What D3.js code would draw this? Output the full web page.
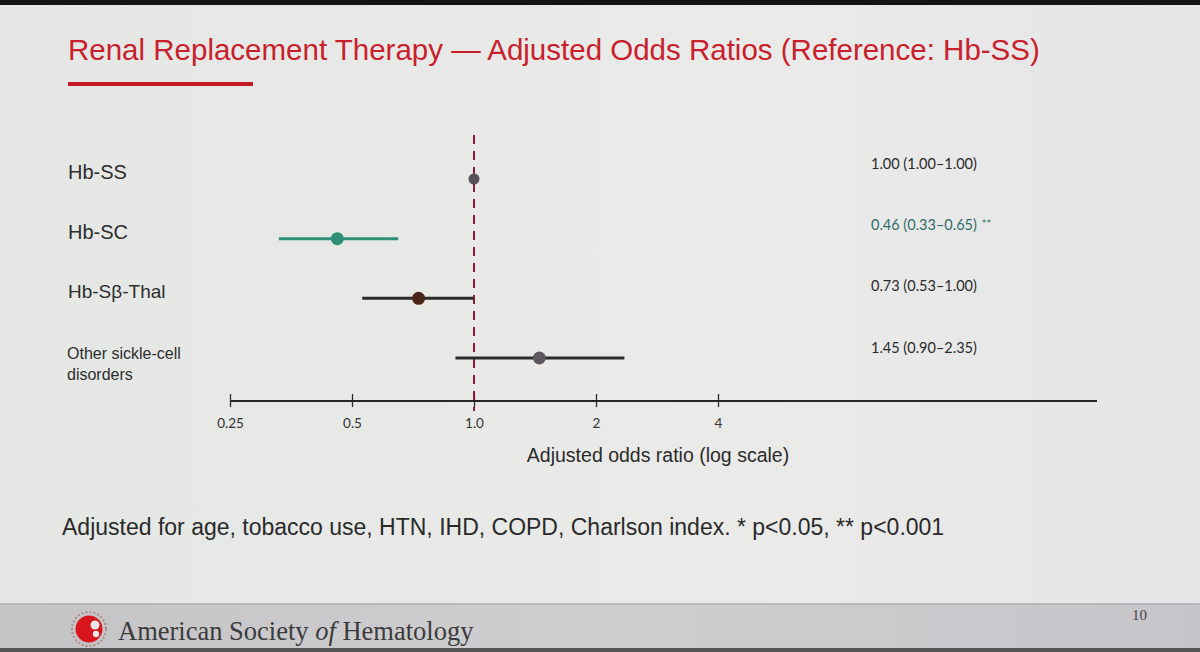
<!DOCTYPE html>
<html>
<head>
<meta charset="utf-8">
<script src="https://cdn.jsdelivr.net/npm/d3@7"></script>
<style>
  html, body { margin: 0; padding: 0; background: #e7e8e6; }
  svg { display: block; }
</style>
</head>
<body>
<script>
// Forest plot data (odds ratio with 95% CI, reference Hb-SS)
const groups = ["Hb-SS", "Hb-SC", "Hb-S\u03b2-Thal", "Other sickle-cell disorders"];
const oddsRatios = [1.00, 0.46, 0.73, 1.45];
const ciLow = [1.00, 0.33, 0.53, 0.90];
const ciHigh = [1.00, 0.65, 1.00, 2.35];
const significance = ["", "**", "", ""];
const tickValues = [0.25, 0.5, 1, 2, 4];
const tickLabels = ["0.25", "0.5", "1.0", "2", "4"];
const rowColors = ["#57535a", "#2f8f74", "#4a2519", "#5d585d"];

const width = 1200;
const height = 652;

const svg = d3.select("body").append("svg")
    .attr("width", width)
    .attr("height", height);

// slide background + dark top edge
const defs = svg.append("defs");
const bg = defs.append("linearGradient").attr("id", "bg").attr("x1", 0).attr("x2", 1).attr("y1", 0).attr("y2", 0);
bg.append("stop").attr("offset", 0).attr("stop-color", "#e5e7e5");
bg.append("stop").attr("offset", 0.6).attr("stop-color", "#eaebe9");
bg.append("stop").attr("offset", 1).attr("stop-color", "#e7e5e7");
svg.append("rect").attr("width", width).attr("height", height).attr("fill", "url(#bg)");
svg.append("rect").attr("width", width).attr("height", 5).attr("fill", "#141414");

// title
svg.append("text")
    .attr("x", 68)
    .attr("y", 60)
    .attr("font-family", "Liberation Sans, Arial, sans-serif")
    .attr("font-size", 29.5)
    .attr("fill", "#c8202c")
    .text("Renal Replacement Therapy \u2014 Adjusted Odds Ratios (Reference: Hb-SS)");

svg.append("rect")
    .attr("x", 68).attr("y", 82)
    .attr("width", 185).attr("height", 4)
    .attr("fill", "#c41a26");

// scales
const x = d3.scaleLog()
    .domain([0.25, 4])
    .range([230, 718]);

const y = d3.scalePoint()
    .domain(groups)
    .range([179, 358]);

const axisY = 401;

// x axis
const xAxis = svg.append("g")
    .attr("transform", `translate(0,${axisY})`)
    .call(d3.axisBottom(x)
        .tickValues(tickValues)
        .tickFormat((d, i) => tickLabels[i])
        .tickSize(0)
        .tickPadding(17));

xAxis.select(".domain").remove();
xAxis.selectAll(".tick text")
    .attr("font-family", "Lato, sans-serif")
    .attr("font-size", 13.5)
    .attr("fill", "#333");
xAxis.selectAll(".tick").append("line")
    .attr("y1", -7)
    .attr("y2", 6)
    .attr("stroke", "#2a2a2a")
    .attr("stroke-width", 1.3);

xAxis.append("line")
    .attr("x1", x(0.25))
    .attr("x2", 1097)
    .attr("stroke", "#262626")
    .attr("stroke-width", 2.2);

svg.append("text")
    .attr("x", 658)
    .attr("y", 462)
    .attr("text-anchor", "middle")
    .attr("font-family", "Liberation Sans, Arial, sans-serif")
    .attr("font-size", 19.5)
    .attr("fill", "#2a2a2a")
    .text("Adjusted odds ratio (log scale)");

// reference line at OR = 1
svg.append("line")
    .attr("x1", x(1)).attr("x2", x(1))
    .attr("y1", 135).attr("y2", axisY + 10)
    .attr("stroke", "#8e1a35")
    .attr("stroke-width", 2)
    .attr("stroke-dasharray", "9,7");

// row labels
const labelG = svg.append("g")
    .attr("font-family", "Liberation Sans, Arial, sans-serif")
    .attr("fill", "#2d2d2d");

groups.forEach((g, i) => {
    if (i === 3) {
        const t = labelG.append("text")
            .attr("x", 67)
            .attr("y", y(g) + 1)
            .attr("font-size", 16);
        t.append("tspan").attr("x", 67).text("Other sickle-cell");
        t.append("tspan").attr("x", 67).attr("dy", 21).text("disorders");
    } else {
        labelG.append("text")
            .attr("x", 68)
            .attr("y", y(g) + 0)
            .attr("font-size", i === 2 ? 19 : 20)
            .text(g);
    }
});

// CI whiskers and points
const rows = svg.append("g");
groups.forEach((g, i) => {
    if (ciHigh[i] > ciLow[i]) {
        rows.append("line")
            .attr("x1", x(ciLow[i]))
            .attr("x2", x(ciHigh[i]))
            .attr("y1", y(g)).attr("y2", y(g))
            .attr("stroke", i === 1 ? rowColors[1] : "#2b2b2b")
            .attr("stroke-width", 3);
    }
    rows.append("circle")
        .attr("cx", x(oddsRatios[i]))
        .attr("cy", y(g))
        .attr("r", i === 0 ? 5.5 : 6.5)
        .attr("fill", rowColors[i]);
});

// estimates column
const est = svg.append("g")
    .attr("font-family", "Lato, sans-serif")
    .attr("font-size", 14.5);
groups.forEach((g, i) => {
    const t = est.append("text")
        .attr("x", 871)
        .attr("y", y(g) - 10 + i * 1.5)
        .attr("fill", i === 1 ? "#2f6e68" : "#2a2a2a")
        .text(`${oddsRatios[i].toFixed(2)} (${ciLow[i].toFixed(2)}\u2013${ciHigh[i].toFixed(2)})`);
    if (significance[i]) {
        t.append("tspan").attr("dx", 5).attr("font-size", 11).attr("dy", -2).text(significance[i]);
    }
});

// footnote
svg.append("text")
    .attr("x", 62)
    .attr("y", 535)
    .attr("font-family", "Liberation Sans, Arial, sans-serif")
    .attr("font-size", 23)
    .attr("fill", "#2a2a2a")
    .text("Adjusted for age, tobacco use, HTN, IHD, COPD, Charlson index. * p<0.05, ** p<0.001");

// footer band
const fg = defs.append("linearGradient").attr("id", "fg").attr("x1", 0).attr("x2", 1).attr("y1", 0).attr("y2", 0);
fg.append("stop").attr("offset", 0).attr("stop-color", "#c4c4c6");
fg.append("stop").attr("offset", 0.5).attr("stop-color", "#cfcfd1");
fg.append("stop").attr("offset", 1).attr("stop-color", "#c6c4c8");
svg.append("rect").attr("x", 0).attr("y", 605).attr("width", width).attr("height", 47).attr("fill", "url(#fg)");
svg.append("line").attr("x1", 0).attr("x2", width).attr("y1", 604).attr("y2", 604)
    .attr("stroke", "#a9a9ab").attr("stroke-width", 1.5);
svg.append("rect").attr("x", 0).attr("y", 648).attr("width", width).attr("height", 4).attr("fill", "#555");

// logo
const logo = svg.append("g").attr("transform", "translate(89,629)");
logo.append("circle").attr("r", 17).attr("fill", "none").attr("stroke", "#b08a8a").attr("stroke-width", 2).attr("stroke-dasharray", "2,2");
logo.append("circle").attr("r", 13.5).attr("fill", "#d8141c");
logo.append("circle").attr("cx", 6).attr("cy", -4).attr("r", 4.5).attr("fill", "#f2e6e6");
logo.append("circle").attr("cx", 7).attr("cy", 5).attr("r", 3.2).attr("fill", "#f2e6e6");

const org = svg.append("text")
    .attr("x", 118)
    .attr("y", 640)
    .attr("font-family", "Liberation Serif, DejaVu Serif, serif")
    .attr("font-size", 26.5)
    .attr("fill", "#3b3b3b");
org.append("tspan").text("American Society ");
org.append("tspan").attr("font-style", "italic").text("of");
org.append("tspan").text(" Hematology");

svg.append("text")
    .attr("x", 1147)
    .attr("y", 620)
    .attr("text-anchor", "end")
    .attr("font-family", "Liberation Serif, serif")
    .attr("font-size", 15)
    .attr("fill", "#444")
    .text("10");
</script>
</body>
</html>
